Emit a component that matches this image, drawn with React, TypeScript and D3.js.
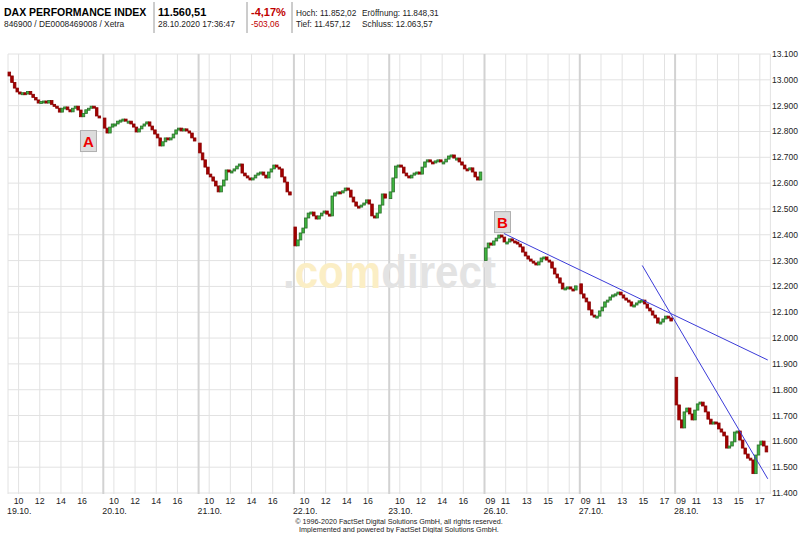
import React from 'react';
import * as d3 from 'd3';

// ---- data ----
const dayLabels = ['19.10.', '20.10.', '21.10.', '22.10.', '23.10.', '26.10.', '27.10.', '28.10.'];
const hourTicksEarly = [10, 12, 14, 16];
const hourTicksLate = [9, 11, 13, 15, 17];
const priceTicks = [11400, 11500, 11600, 11700, 11800, 11900, 12000, 12100, 12200, 12300, 12400, 12500, 12600, 12700, 12800, 12900, 13000, 13100];

// 15-minute prices per day: first value = open at 09:00, then closes 09:15 ... 17:45
const d1910 = [13030, 13015, 12990, 12968, 12953, 12945, 12950, 12945, 12955, 12944, 12932, 12922, 12910, 12916, 12918, 12910, 12920, 12905, 12898, 12890, 12875, 12890, 12895, 12884, 12876, 12890, 12898, 12883, 12857, 12870, 12884, 12890, 12898, 12892, 12860, 12856];
const d2010 = [12852, 12813, 12794, 12817, 12829, 12829, 12840, 12844, 12848, 12840, 12840, 12829, 12817, 12798, 12810, 12821, 12829, 12837, 12821, 12806, 12790, 12775, 12744, 12760, 12775, 12771, 12775, 12790, 12806, 12813, 12802, 12810, 12802, 12794, 12775, 12763];
const d2110 = [12755, 12717, 12690, 12662, 12635, 12624, 12608, 12589, 12566, 12589, 12612, 12651, 12643, 12647, 12655, 12666, 12674, 12639, 12628, 12620, 12616, 12620, 12631, 12639, 12643, 12631, 12620, 12643, 12655, 12670, 12662, 12655, 12624, 12604, 12566, 12554];
const d2210 = [12430, 12357, 12380, 12407, 12426, 12465, 12484, 12488, 12473, 12461, 12473, 12484, 12492, 12480, 12473, 12550, 12562, 12566, 12562, 12570, 12581, 12573, 12546, 12527, 12511, 12508, 12515, 12523, 12535, 12519, 12473, 12465, 12484, 12515, 12558, 12542];
const d2310 = [12540, 12566, 12620, 12666, 12670, 12662, 12639, 12628, 12620, 12631, 12639, 12643, 12635, 12662, 12682, 12690, 12682, 12678, 12686, 12690, 12682, 12682, 12693, 12705, 12709, 12697, 12697, 12682, 12670, 12655, 12651, 12659, 12643, 12624, 12612, 12643];
const d2610 = [12300, 12349, 12368, 12360, 12376, 12387, 12399, 12391, 12372, 12372, 12384, 12376, 12372, 12364, 12353, 12333, 12318, 12306, 12298, 12291, 12283, 12295, 12310, 12314, 12302, 12295, 12271, 12248, 12233, 12213, 12190, 12194, 12198, 12190, 12186, 12202];
const d2710 = [12210, 12171, 12155, 12140, 12109, 12089, 12082, 12085, 12105, 12120, 12140, 12147, 12159, 12167, 12171, 12178, 12167, 12155, 12147, 12140, 12124, 12128, 12136, 12144, 12147, 12132, 12116, 12105, 12089, 12078, 12058, 12062, 12074, 12085, 12078, 12066];
const d2810 = [11848, 11741, 11683, 11652, 11714, 11729, 11706, 11683, 11721, 11745, 11752, 11737, 11714, 11686, 11667, 11675, 11671, 11648, 11636, 11621, 11574, 11582, 11598, 11636, 11640, 11605, 11574, 11551, 11535, 11528, 11475, 11547, 11586, 11601, 11582, 11559];
const dayPrices = [d1910, d2010, d2110, d2210, d2310, d2610, d2710, d2810];

// trend lines: [dayIndex, hour, value]
const trend1 = [[5, 10.83, 12405], [7, 17.75, 11915]];
const trend2 = [[6, 14.9, 12281], [7, 17.75, 11455]];
// markers: [label, dayIndex, hour, value]
const markers = [['A', 0, 16.6, 12763], ['B', 5, 10.7, 12449]];

const header = {
  title: 'DAX PERFORMANCE INDEX',
  sub: '846900 / DE0008469008 / Xetra',
  last: '11.560,51',
  time: '28.10.2020 17:36:47',
  pct: '-4,17%',
  abs: '-503,06',
  hoch: 'Hoch: 11.852,02',
  eroeff: 'Eröffnung: 11.848,31',
  tief: 'Tief: 11.457,12',
  schluss: 'Schluss: 12.063,57',
};

const FONT = '"Liberation Sans", Arial, sans-serif';
const HOURS_PER_DAY = 9;

export default function App() {
  const W = 800, H = 533;
  const x = d3.scaleLinear().domain([0, dayLabels.length * HOURS_PER_DAY]).range([8, 770.4]);
  const y = d3.scaleLinear().domain([11400, 13100]).range([493, 54]);
  const tx = (d: number, h: number) => x(d * HOURS_PER_DAY + h - 9);
  const top = 54, bottom = 494;

  const candles: { x: number; o: number; c: number }[] = [];
  dayPrices.forEach((arr, d) => {
    for (let i = 1; i < arr.length; i++) {
      candles.push({ x: tx(d, 9 + (i - 0.5) * 0.25), o: arr[i - 1], c: arr[i] });
    }
  });

  const vGrid: { x: number; sep: boolean }[] = [];
  dayLabels.forEach((_, d) => {
    vGrid.push({ x: tx(d, 9), sep: d > 0 });
    const hs = d < 5 ? hourTicksEarly : hourTicksLate;
    hs.forEach((h) => { if (h !== 9) vGrid.push({ x: tx(d, h), sep: false }); });
  });
  vGrid.push({ x: x(dayLabels.length * HOURS_PER_DAY), sep: false });

  const line = d3.line<number[]>().x((p) => tx(p[0], p[1])).y((p) => y(p[2]));

  return (
    <svg width={W} height={H} style={{ position: 'absolute', left: 0, top: 0, background: '#fff' }} fontFamily={FONT}>
      <rect width={W} height={H} fill="#fff" />
      {/* header */}
      <text x={4} y={16} fontSize={10.5} fontWeight="bold" fill="#000">{header.title}</text>
      <text x={4} y={27} fontSize={8.4} fill="#222">{header.sub}</text>
      <line x1={154} x2={154} y1={2} y2={33} stroke="#9a9a9a" />
      <text x={158} y={16} fontSize={11} fontWeight="bold" fill="#000">{header.last}</text>
      <text x={158} y={27} fontSize={8.4} fill="#222">{header.time}</text>
      <line x1={247} x2={247} y1={2} y2={33} stroke="#9a9a9a" />
      <text x={251} y={16} fontSize={11} fontWeight="bold" fill="#c00000">{header.pct}</text>
      <text x={251} y={27} fontSize={8.4} fill="#c00000">{header.abs}</text>
      <line x1={292} x2={292} y1={2} y2={33} stroke="#9a9a9a" />
      <text x={296} y={16} fontSize={8.3} fill="#222">{header.hoch}</text>
      <text x={362} y={16} fontSize={8.3} fill="#222">{header.eroeff}</text>
      <text x={296} y={27} fontSize={8.3} fill="#222">{header.tief}</text>
      <text x={362} y={27} fontSize={8.3} fill="#222">{header.schluss}</text>

      {/* grid */}
      {priceTicks.map((p) => (
        <line key={'h' + p} x1={8} x2={770.4} y1={y(p)} y2={y(p)} stroke="#e2e2e2" />
      ))}
      {vGrid.map((g, i) => (
        <line key={'v' + i} x1={g.x} x2={g.x} y1={top} y2={bottom} stroke={g.sep ? '#d2d2d2' : '#e2e2e2'} strokeWidth={g.sep ? 2 : 1} />
      ))}

      {/* watermark */}
      <text x={283} y={288} fontSize={46} fontWeight="bold" textLength={213} lengthAdjust="spacingAndGlyphs">
        <tspan fill="#e3e3e3">.</tspan>
        <tspan fill="#fbeec5">com</tspan>
        <tspan fill="#e3e3e3">direct</tspan>
      </text>

      {/* candles */}
      {candles.map((k, i) => {
        const up = k.c >= k.o;
        const y1 = y(Math.max(k.o, k.c));
        const y2 = y(Math.min(k.o, k.c));
        const h = Math.max(2, y2 - y1);
        return (
          <rect key={'c' + i} x={k.x - 1.3} y={y1} width={2.6} height={h}
            fill={up ? '#3fb53f' : '#a30000'} stroke={up ? '#2b6e2b' : '#8a0000'} strokeWidth={0.8} />
        );
      })}

      {/* trend lines */}
      <path d={line(trend1) || ''} fill="none" stroke="#3b3bd8" strokeWidth={1} />
      <path d={line(trend2) || ''} fill="none" stroke="#3b3bd8" strokeWidth={1} />

      {/* markers */}
      {markers.map((m) => {
        const cx = tx(m[1] as number, m[2] as number);
        const cy = y(m[3] as number);
        return (
          <g key={'m' + m[0]}>
            <rect x={cx - 8} y={cy - 10.5} width={16} height={21} fill="#dcdcdc" stroke="#b0b0b0" />
            <text x={cx} y={cy + 5.5} fontSize={15} fontWeight="bold" fill="#ee0000" textAnchor="middle">{m[0]}</text>
          </g>
        );
      })}

      {/* right axis labels */}
      {priceTicks.map((p) => (
        <text key={'t' + p} x={772} y={y(p) + 3} fontSize={8.5} fill="#222">{d3.format(',')(p).replace(',', '.')}</text>
      ))}

      {/* bottom axis labels */}
      {dayLabels.map((lab, d) => {
        const hs = d < 5 ? hourTicksEarly : hourTicksLate;
        return (
          <g key={'d' + lab}>
            {hs.map((h) => (
              <text key={h} x={h === 9 ? tx(d, 9) + 1 : tx(d, h)} y={504} fontSize={8.8} fill="#222" textAnchor={h === 9 ? 'start' : 'middle'}>
                {String(h).padStart(2, '0')}
              </text>
            ))}
            <text x={tx(d, 9) - 1} y={514} fontSize={8.8} fill="#222">{lab}</text>
          </g>
        );
      })}

      {/* copyright */}
      <text x={399} y={524} fontSize={7.2} fill="#222" textAnchor="middle">© 1996-2020 FactSet Digital Solutions GmbH, all rights reserved.</text>
      <text x={399} y={532} fontSize={7.2} fill="#222" textAnchor="middle">Implemented and powered by FactSet Digital Solutions GmbH.</text>
    </svg>
  );
}
